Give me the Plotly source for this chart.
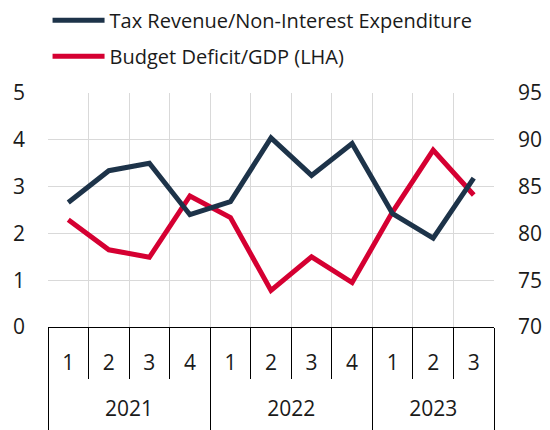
import plotly.graph_objects as go

years = ["2021"] * 4 + ["2022"] * 4 + ["2023"] * 3
quarters = ["1", "2", "3", "4", "1", "2", "3", "4", "1", "2", "3"]
tax_rev_ratio = [83.3, 86.7, 87.5, 82.0, 83.4, 90.2, 86.2, 89.6, 82.1, 79.5, 85.9]
deficit_gdp = [2.29, 1.65, 1.49, 2.80, 2.34, 0.78, 1.50, 0.95, 2.46, 3.78, 2.82]

navy = "#1d3349"
red = "#d50032"
font = "Open Sans"
grid = "#d9d9d9"

n = len(quarters)
idx = list(range(n))
bounds = [i - 0.5 for i in range(n + 1)]
year_names = list(dict.fromkeys(years))
year_centers = [sum(i for i in idx if years[i] == y) / years.count(y) for y in year_names]
year_bounds = [-0.5] + [i - 0.5 for i in range(1, n) if years[i] != years[i - 1]] + [n - 0.5]

fig = go.Figure()
fig.add_trace(go.Scatter(
    x=idx, y=tax_rev_ratio, mode="lines",
    name="Tax Revenue/Non-Interest Expenditure", legendgroup="a",
    line=dict(color=navy, width=5), yaxis="y2"))
fig.add_trace(go.Scatter(
    x=idx, y=deficit_gdp, mode="lines",
    name="Budget Deficit/GDP (LHA)", legendgroup="b",
    line=dict(color=red, width=5), yaxis="y"))
# invisible trace to activate the year axis
fig.add_trace(go.Scatter(x=[idx[0]], y=[deficit_gdp[0]], xaxis="x2", yaxis="y",
                         mode="markers", marker=dict(opacity=0), showlegend=False,
                         hoverinfo="skip"))

fig.update_layout(
    width=550, height=430,
    margin=dict(l=40, r=64, t=85, b=111, autoexpand=False),
    paper_bgcolor="white", plot_bgcolor="white",
    font=dict(family=font, size=20, color="#1a1a1a"),
    showlegend=True,
    legend=dict(x=-0.001, y=1.394, yref="paper", xanchor="left", yanchor="top",
                orientation="v", itemwidth=52, font=dict(size=20),
                tracegroupgap=7, bgcolor="rgba(0,0,0,0)",
                traceorder="grouped"),
    xaxis=dict(range=[-0.5, n - 0.5], automargin=False,
               tickmode="array", tickvals=idx, ticktext=quarters,
               ticks="", showgrid=False, zeroline=False,
               ticklabelstandoff=17,
               showline=True, linecolor="black",
               minor=dict(tickmode="array", tickvals=bounds, ticks="outside",
                          ticklen=51, tickcolor="black", showgrid=True,
                          gridcolor=grid),
               tickfont=dict(size=21)),
    xaxis2=dict(range=[-0.5, n - 0.5], overlaying="x", anchor="y", side="bottom",
                automargin=False,
                tickmode="array", tickvals=year_centers, ticktext=year_names,
                ticks="", showgrid=False, zeroline=False,
                ticklabelstandoff=67,
                minor=dict(tickmode="array", tickvals=year_bounds, ticks="outside",
                           ticklen=103, tickcolor="black", showgrid=False),
                tickfont=dict(size=21)),
    yaxis=dict(range=[0, 5], dtick=1, showgrid=True, gridcolor=grid,
               automargin=False,
               zeroline=False, ticklabelstandoff=22, tickfont=dict(size=21)),
    yaxis2=dict(range=[70, 95], dtick=5, overlaying="y", side="right",
                automargin=False,
                showgrid=False, zeroline=False, ticklabelstandoff=23,
                tickfont=dict(size=21)),
)

fig.write_html("out.html")
